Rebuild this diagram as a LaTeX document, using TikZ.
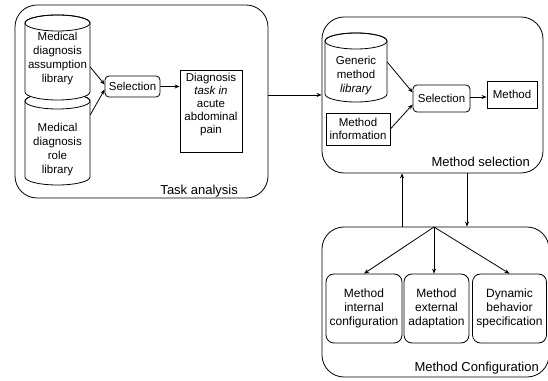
\documentclass[tikz,border=0pt]{standalone}
\usepackage{fontspec}
\setmainfont{Liberation Sans}
\usetikzlibrary{arrows.meta}
\tikzset{
  frame/.style={draw, line width=0.8pt, rounded corners=22pt},
  rbox/.style={draw, line width=0.8pt, rounded corners=4pt, inner sep=0pt, font=\fontsize{11.5}{13}\selectfont, align=center},
  sbox/.style={draw, line width=0.8pt, inner sep=0pt, font=\fontsize{11.5}{13}\selectfont, align=center},
  cbox/.style={draw, line width=0.8pt, rounded corners=8pt, inner sep=0pt, font=\fontsize{12}{14}\selectfont, align=center},
  txt/.style={inner sep=0pt, font=\fontsize{11.5}{14}\selectfont, align=center},
  lbl/.style={inner sep=0pt, font=\fontsize{13}{15}\selectfont},
  arr/.style={line width=0.8pt, -{Stealth[length=5pt,width=4pt]}},
  cyl/.style={line width=0.8pt, fill=white}
}
\begin{document}
\begin{tikzpicture}[x=1pt,y=1pt]
\useasboundingbox (0,0) rectangle (548,380);
% ---------- Task analysis ----------
\node[frame, minimum width=253pt, minimum height=193pt] (ta) at (141.5,278.5) {};
\node[lbl, anchor=base east] (talbl) at (238,185) {Task analysis};
% cylinder 2 (lower)
\filldraw[cyl] (25,279) -- (25,203) arc[start angle=180, end angle=360, x radius=32.5, y radius=8] -- (90,279) arc[start angle=0, end angle=180, x radius=32.5, y radius=8] -- cycle;
\draw[line width=0.8pt] (57.5,279) ellipse [x radius=32.5, y radius=8];
% cylinder 1 (upper)
\filldraw[cyl] (25,357) -- (25,288) arc[start angle=180, end angle=360, x radius=32.5, y radius=8] -- (90,357) arc[start angle=0, end angle=180, x radius=32.5, y radius=8] -- cycle;
\draw[line width=0.8pt] (57.5,357) ellipse [x radius=32.5, y radius=8];
\node[txt, minimum width=65pt] (cylA) at (57.5,321) {Medical\\diagnosis\\assumption\\library};
\node[txt, minimum width=65pt] (cylB) at (57.5,230) {Medical\\diagnosis\\role\\library};
\node[rbox, minimum width=55pt, minimum height=21pt] (sel1) at (132.5,293.5) {Selection};
\node[sbox, minimum width=62pt, minimum height=82pt] (diag) at (211,269) {};
\node[txt, anchor=north, font=\fontsize{11.5}{13}\selectfont] (diagtxt) at ([yshift=-3pt]diag.north) {Diagnosis\\\textit{task in}\\acute\\abdominal\\pain};
\draw[arr] ([yshift=-8pt]cylA.east) -- ([yshift=2pt]sel1.west);
\draw[arr] ([yshift=35pt]cylB.east) -- ([yshift=-3pt]sel1.west);
\draw[arr] (sel1.east) -- (sel1.east -| diag.west);
% ---------- Method selection ----------
\node[frame, minimum width=221pt, minimum height=156pt] (ms) at (432.5,285) {};
\node[lbl, anchor=base east] (mslbl) at (530,213) {Method selection};
\filldraw[cyl] (325,339) -- (325,286) arc[start angle=180, end angle=360, x radius=31, y radius=8] -- (387,339) arc[start angle=0, end angle=180, x radius=31, y radius=8] -- cycle;
\draw[line width=0.8pt] (356,339) ellipse [x radius=31, y radius=8];
\node[txt, minimum width=62pt] (cylG) at (356,304) {Generic\\method\\\textit{library}};
\node[sbox, minimum width=64pt, minimum height=32pt] (minfo) at (358,251) {Method\\information};
\node[rbox, minimum width=57pt, minimum height=27pt] (sel2) at (441.5,281.5) {Selection};
\node[sbox, minimum width=50pt, minimum height=27pt] (meth) at (512,285.5) {Method};
\draw[arr] ([yshift=14pt]cylG.east) -- ([yshift=6pt]sel2.west);
\draw[arr] (minfo.east) -- ([yshift=-6pt]sel2.west);
\draw[arr] ([yshift=1.5pt]sel2.east) -- ([yshift=1.5pt]sel2.east -| meth.west);
\draw[arr] ([yshift=6.5pt]ta.east) -- ([yshift=6.5pt]ta.east -| ms.west);
% ---------- Method Configuration ----------
\node[frame, minimum width=227pt, minimum height=150pt] (mc) at (435.5,78) {};
\node[lbl, anchor=base east] (mclbl) at (539,9) {Method Configuration};
\coordinate (p1) at (402,0);
\coordinate (p2) at (467,0);
\draw[arr] (mc.north -| p1) -- (ms.south -| p1);
\draw[arr] (ms.south -| p2) -- (mc.north -| p2);
\coordinate (fan) at (434,153);
\node[cbox, minimum width=76pt, minimum height=69pt] (b1) at (364,71.5) {Method\\internal\\configuration};
\node[cbox, minimum width=65pt, minimum height=69pt] (b2) at (436.5,71.5) {Method\\external\\adaptation};
\node[cbox, minimum width=74pt, minimum height=69pt] (b3) at (509.5,71.5) {Dynamic\\behavior\\specification};
\draw[arr] (fan) -- (b1.north);
\draw[arr] (fan) -- (fan |- b2.north);
\draw[arr] (fan) -- (b3.north);
\end{tikzpicture}
\end{document}
